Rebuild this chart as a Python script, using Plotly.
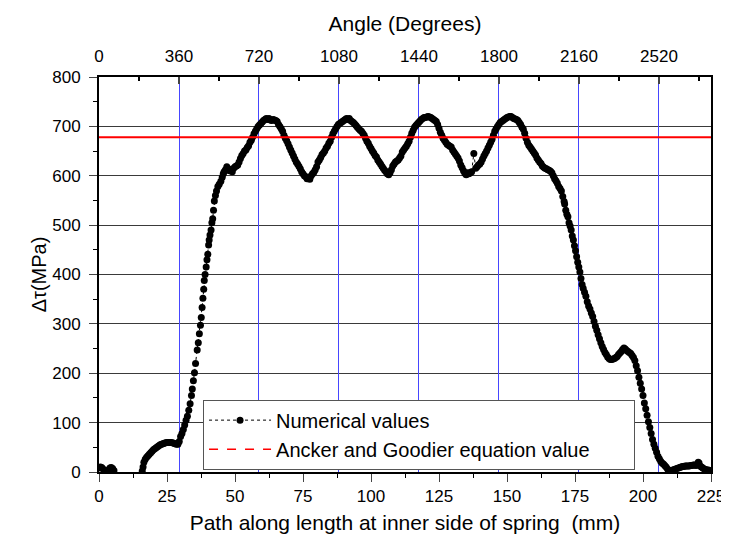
import plotly.graph_objects as go

# ---- data ----
PATH_MM = [
    0, 0.5, 1, 1.5, 2, 3.5, 4, 4.5, 5, 5.5, None,
    15.9, 16.2, 16.5, 17, 17.5, 18, 18.5, 19, 19.5, 20, 20.5, 21, 21.5, 22, 22.5, 23, 23.5, 24, 24.5,
    25, 25.5, 26, 26.5, 27, 27.5, 28, 28.5, 29, 29.5, 30, 30.5, 31, 31.5, 32, 32.5, 33, 33.5, 34,
    34.3, 34.7, 35.1, 35.5, 36.1, 36.5, 36.9, 37.3, 37.6, 37.9, 38.2, 38.5, 38.7, 39.0, 39.4, 39.7,
    40.0, 40.3, 40.5, 40.8, 41.2, 41.5, 41.8, 42.1, 42.4, 42.8, 43.2, 43.7, 44.2, 44.8, 45.3, 45.7,
    46.0, 46.5, 47, 47.5, 48, 48.5, 49, 49.5, 50, 50.5, 51, 51.5, 52, 52.5, 53, 53.5, 54, 54.5,
    55, 55.5, 56, 56.5, 57, 57.5, 58, 58.5, 59, 59.5, 60, 60.5, 61, 61.5, 62, 62.5, 63, 63.5, 64,
    64.5, 65, 65.5, 66, 66.5, 67, 67.5, 68, 68.5, 69, 69.5, 70, 70.5, 71, 71.5, 72, 72.5, 73, 73.5,
    74, 74.5, 75, 75.5, 76, 76.5, 77, 77.5, 78, 78.5, 79, 79.5, 80, 80.5, 81, 81.5, 82, 82.5, 83,
    83.5, 84, 84.5, 85, 85.5, 86, 86.5, 87, 87.5, 88, 88.5, 89, 89.5, 90, 90.5, 91, 91.5, 92, 92.5,
    93, 93.5, 94, 94.5, 95, 95.5, 96, 96.5, 97, 97.5, 98, 98.5, 99, 99.5, 100, 100.5, 101, 101.5,
    102, 102.5, 103, 103.5, 104, 104.5, 105, 105.5, 106, 106.5, 107, 107.5, 108, 108.5, 109, 109.5,
    110, 110.5, 111, 111.5, 112, 112.5, 113, 113.5, 114, 114.5, 115, 115.5, 116, 116.5, 117, 117.5,
    118, 118.5, 119, 119.5, 120, 120.5, 121, 121.5, 122, 122.5, 123, 123.5, 124, 124.5, 125, 125.5,
    126, 126.5, 127, 127.5, 128, 128.5, 129, 129.5, 130, 130.5, 131, 131.5, 132, 132.5, 133, 133.5,
    134, 134.5, 135, 135.5, 136, 136.5, 137, 137.8, 138.5, 139, 139.5, 140, 140.5, 141, 141.5, 142,
    142.5, 143, 143.5, 144, 144.5, 145, 145.5, 146, 146.5, 147, 147.5, 148, 148.5, 149, 149.5, 150,
    150.5, 151, 151.5, 152, 152.5, 153, 153.5, 154, 154.5, 155, 155.5, 156, 156.5, 157, 157.5, 158,
    158.5, 159, 159.5, 160, 160.5, 161, 161.5, 162, 162.5, 163, 163.5, 164, 164.5, 165, 165.5, 166,
    166.5, 167, 167.5, 168, 168.5, 169, 169.5, 170, 170.5, 171, 171.2, 171.6, 172, 172.4, 172.8,
    173.2, 173.6, 174, 174.4, 174.8, 175.2, 175.6, 176, 176.4, 176.8, 177.2, 177.6, 178, 178.5, 179,
    179.5, 180, 180.5, 181, 181.5, 182, 182.5, 183, 183.5, 184, 184.5, 185, 185.5, 186, 186.5, 187,
    187.5, 188, 188.5, 189, 189.5, 190, 190.5, 191, 191.5, 192, 192.5, 193, 193.5, 194, 194.5, 195,
    195.5, 196, 196.5, 197, 197.5, 198, 198.5, 199, 199.5, 200, 200.5, 201, 201.5, 202, 202.5, 203,
    203.5, 204, 204.5, 205, 205.5, 206, 206.5, 207, 207.5, 208, 208.5, 209, 209.5, 210, 210.5, 211,
    211.5, 212, 212.5, 213, 213.5, 214, 214.5, 215, 215.5, 216, 216.5, 217, 217.5, 218, 218.5, 219,
    219.5, 220, 220.3, 220.6, 221, 221.5, 222, 222.5, 223, 223.5, 224, 224.5, 225,
]
DELTA_TAU_MPA = [
    8, 10, 9, 6, 3, 4, 8, 9, 7, 3, None,
    2, 10, 20, 26, 30, 33, 36, 39, 42, 45, 47, 49, 51, 53, 55, 56, 57, 58, 59,
    60, 60, 60, 60, 59, 58, 57, 56, 56, 62, 72, 78, 86, 95, 105, 113, 125, 138, 155,
    168, 185, 201, 220, 247, 262, 280, 297, 313, 333, 352, 370, 388, 400, 415, 430,
    441, 460, 470, 480, 490, 505, 513, 530, 549, 560, 569, 578, 583, 589, 597, 604,
    608, 612, 618, 614, 610, 612, 608, 615, 618, 620, 622, 628, 635, 641, 645, 650, 652, 657,
    661, 668, 672, 678, 685, 690, 695, 700, 703, 706, 709, 712, 714, 716, 714, 716, 713, 712, 714,
    713, 712, 710, 704, 700, 695, 690, 682, 676, 671, 665, 658, 652, 646, 640, 634, 628, 624, 619,
    614, 608, 604, 600, 598, 594, 596, 593, 600, 604, 607, 612, 618, 628, 632, 637, 643, 646, 650,
    656, 660, 666, 670, 678, 685, 690, 695, 700, 704, 706, 708, 710, 712, 714, 716, 714, 716, 712,
    710, 708, 705, 702, 698, 695, 692, 690, 686, 682, 676, 670, 666, 660, 655, 650, 646, 641,
    638, 632, 628, 624, 619, 615, 611, 608, 604, 602, 606, 612, 620, 624, 628, 630,
    632, 636, 640, 648, 652, 656, 660, 665, 670, 678, 686, 692, 698, 702, 705, 708,
    711, 714, 716, 718, 718, 719, 720, 719, 718, 716, 714, 712, 710, 704, 696, 688,
    682, 676, 672, 668, 664, 662, 660, 658, 652, 648, 644, 640, 636, 630, 622, 616,
    610, 605, 602, 606, 604, 606, 608, 645, 615, 618, 622, 624, 628, 634, 640, 645,
    650, 656, 662, 668, 674, 682, 690, 695, 700, 704, 708, 710, 712, 714, 716, 718,
    719, 720, 720, 718, 716, 715, 714, 712, 708, 704, 698, 694, 686, 676, 668, 662,
    658, 654, 650, 646, 642, 636, 632, 628, 625, 620, 617, 615, 614, 612, 611, 609,
    606, 600, 594, 590, 585, 578, 574, 569, 558, 548, 543, 530, 522, 517, 505,
    498, 490, 478, 470, 458, 448, 436, 425, 415, 405, 392, 380, 372, 364, 356,
    345, 336, 330, 322, 315, 305, 295, 287, 278, 270, 262, 254, 248, 242, 238, 233,
    230, 228, 228, 229, 230, 232, 234, 238, 241, 244, 248, 251, 249, 246, 244, 242,
    240, 236, 232, 226, 215, 205, 192, 180, 168, 155, 140, 128, 115, 102, 90, 78,
    66, 56, 48, 40, 32, 27, 22, 18, 16, 13, 10, 6, 3, 2, 3, 4,
    5, 6, 7, 8, 9, 10, 11, 11, 12, 12, 12, 12, 13, 13, 14, 14,
    13, 15, 20, 18, 12, 10, 8, 6, 5, 4, 4, 3, 2,
]
ANCKER_GOODIER_MPA = 678
MM_PER_TURN = 29.41          # path length per 360 degrees
X_MAX_MM = 225
ANGLE_TICKS = [0, 360, 720, 1080, 1440, 1800, 2160, 2520]
ANGLE_MAX = X_MAX_MM * 360 / MM_PER_TURN

FONT = "Arial, Liberation Sans, sans-serif"

fig = go.Figure()
fig.add_trace(go.Scatter(
    x=PATH_MM, y=DELTA_TAU_MPA, mode="lines+markers", name="Numerical values",
    marker=dict(color="black", size=7),
    line=dict(color="black", width=1, dash="dot"),
    connectgaps=False,
))
fig.add_trace(go.Scatter(
    x=[0, ANGLE_MAX], y=[ANCKER_GOODIER_MPA, ANCKER_GOODIER_MPA], xaxis="x2",
    mode="lines", line=dict(color="#ff0000", width=2), showlegend=False, hoverinfo="skip",
))
fig.add_trace(go.Scatter(
    x=[None], y=[None], mode="lines",
    name="Ancker and Goodier equation value" + "\u00a0" * 7,
    line=dict(color="#ff0000", width=1.5, dash="dash"),
))

fig.update_layout(
    width=729, height=535,
    margin=dict(l=91, r=15, t=69, b=60),
    paper_bgcolor="white", plot_bgcolor="white",
    font=dict(family=FONT, color="black", size=17),
    showlegend=True,
    legend=dict(
        x=0.170, y=0.006, xanchor="left", yanchor="bottom",
        bgcolor="white", bordercolor="#555", borderwidth=1,
        font=dict(size=20, family=FONT), itemwidth=62, tracegroupgap=0,
    ),
    xaxis=dict(
        range=[0, X_MAX_MM], tick0=0, dtick=25, ticks="outside", ticklen=8, tickwidth=1,
        minor=dict(dtick=12.5, ticks="outside", ticklen=4, tickcolor="black"),
        showline=True, linewidth=2, linecolor="black", showgrid=False, zeroline=False,
        tickfont=dict(size=17),
        title=dict(text="Path along length at inner side of spring \u00a0(mm)",
                   font=dict(size=21), standoff=10),
    ),
    xaxis2=dict(
        overlaying="x", side="top", range=[0, ANGLE_MAX],
        tickmode="array", tickvals=ANGLE_TICKS, ticktext=[str(v) for v in ANGLE_TICKS],
        ticks="inside", ticklen=7, tickwidth=2, ticklabelstandoff=6,
        minor=dict(dtick=180, tick0=0, ticks="inside", ticklen=4, tickcolor="black"),
        showline=True, linewidth=2, linecolor="black",
        showgrid=True, gridcolor="#4646ff", gridwidth=1, zeroline=False,
        tickfont=dict(size=17),
        title=dict(text="Angle (Degrees)", font=dict(size=21), standoff=10),
    ),
    yaxis=dict(
        range=[0, 800], tick0=0, dtick=100, ticks="outside", ticklen=8, tickwidth=1,
        ticklabelstandoff=5,
        minor=dict(dtick=50, ticks="outside", ticklen=4, tickcolor="black"),
        showline=True, linewidth=2, linecolor="black", mirror=True,
        showgrid=True, gridcolor="#3a3a3a", gridwidth=1, zeroline=False,
        tickfont=dict(size=17),
        title=dict(text="\u0394\u03c4(MPa)", font=dict(size=20), standoff=0),
    ),
)

fig.write_html("out.html")
